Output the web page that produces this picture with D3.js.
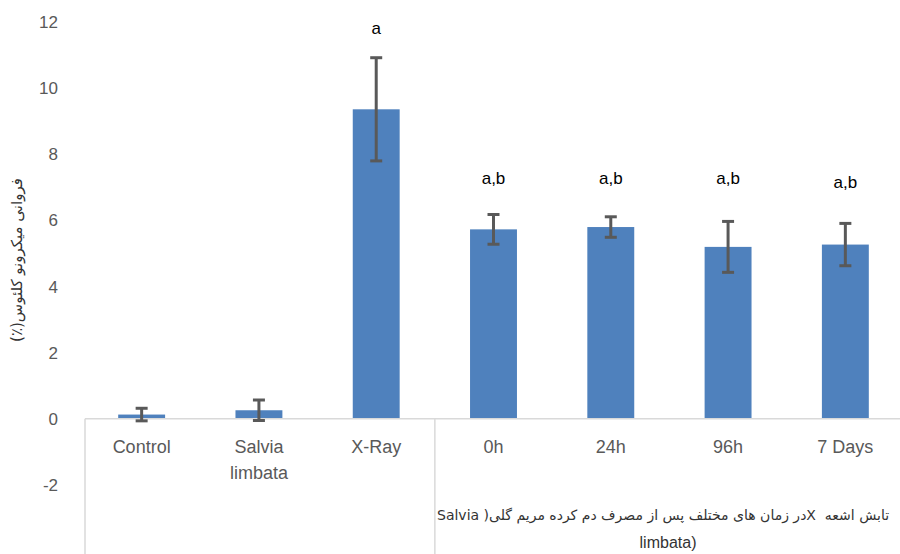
<!DOCTYPE html>
<html>
<head>
<meta charset="utf-8">
<script src="https://cdn.jsdelivr.net/npm/d3@7"></script>
<style>
  body { margin: 0; background: #fff; }
  svg { display: block; }
</style>
</head>
<body>
<div id="chart"></div>
<script>
// data
const categories = ["Control", "Salvia limbata", "X-Ray", "0h", "24h", "96h", "7 Days"];
const means = [0.13, 0.26, 9.36, 5.73, 5.8, 5.2, 5.27];
const errors = [0.19, 0.31, 1.56, 0.45, 0.31, 0.77, 0.64];
const letters = ["", "", "a", "a,b", "a,b", "a,b", "a,b"];
const letterLevel = [0, 0, 11.82, 7.28, 7.28, 7.28, 7.16];
const yTicks = [-2, 0, 2, 4, 6, 8, 10, 12];
const yTitle = "فروانی میکرونو کلئوس(٪)";
const groupLines = ["تابش اشعه  Xدر زمان های مختلف پس از مصرف دم کرده مریم گلی( Salvia", "limbata)"];

const width = 900, height = 554;
const svg = d3.select("#chart").append("svg")
  .attr("width", width)
  .attr("height", height);

const x = d3.scaleBand()
  .domain(categories)
  .range([83, 904])
  .paddingInner(0.6)
  .paddingOuter(0.3);

const y = d3.scaleLinear()
  .domain([-2, 12])
  .range([485, 22]);

const gray = "#595959";
const font = "'Liberation Sans', Arial, sans-serif";
const faFont = "'DejaVu Sans', Arial, sans-serif";

// y tick labels (no axis line, no gridlines)
const yAxis = svg.append("g")
  .attr("transform", "translate(58,0)")
  .call(d3.axisLeft(y).tickValues(yTicks).tickSize(0).tickPadding(0).tickFormat(d => String(d)));
yAxis.select(".domain").remove();
yAxis.selectAll("text")
  .attr("fill", gray)
  .attr("font-size", 17)
  .attr("font-family", font);

// y title
svg.append("text")
  .attr("transform", "translate(22,260) rotate(-90)")
  .attr("text-anchor", "middle")
  .attr("direction", "rtl")
  .attr("font-size", 15)
  .attr("font-family", faFont)
  .attr("fill", "#333")
  .text(yTitle);

// bars
svg.selectAll(".bar")
  .data(categories)
  .join("rect")
  .attr("class", "bar")
  .attr("x", d => x(d))
  .attr("width", x.bandwidth())
  .attr("y", (d, i) => y(Math.max(0, means[i])))
  .attr("height", (d, i) => Math.abs(y(means[i]) - y(0)))
  .attr("fill", "#4f81bd");

// zero axis line and group dividers
const x0 = x.range()[0] + 2, x1 = x.range()[1];
svg.append("line")
  .attr("x1", x0).attr("x2", x1)
  .attr("y1", y(0)).attr("y2", y(0))
  .attr("stroke", "#d9d9d9").attr("stroke-width", 1.5);

const dividerX = [x0, x(categories[3]) - x.step() * x.paddingInner() / 2];
svg.selectAll(".divider")
  .data(dividerX)
  .join("line")
  .attr("class", "divider")
  .attr("x1", d => d).attr("x2", d => d)
  .attr("y1", y(0)).attr("y2", height)
  .attr("stroke", "#d9d9d9").attr("stroke-width", 1.5);

// error bars
const errG = svg.append("g")
  .attr("stroke", "#595959")
  .attr("stroke-width", 3);
categories.forEach((c, i) => {
  const cx = x(c) + x.bandwidth() / 2;
  const top = y(means[i] + errors[i]);
  const bot = y(means[i] - errors[i]);
  errG.append("line").attr("x1", cx).attr("x2", cx).attr("y1", top).attr("y2", bot);
  errG.append("line").attr("x1", cx - 6).attr("x2", cx + 6).attr("y1", top).attr("y2", top);
  errG.append("line").attr("x1", cx - 6).attr("x2", cx + 6).attr("y1", bot).attr("y2", bot);
});

// significance letters
svg.selectAll(".letter")
  .data(categories)
  .join("text")
  .attr("class", "letter")
  .attr("x", d => x(d) + x.bandwidth() / 2)
  .attr("y", (d, i) => y(letterLevel[i]))
  .attr("dy", "0.35em")
  .attr("text-anchor", "middle")
  .attr("font-size", 17)
  .attr("font-family", font)
  .attr("fill", "#000")
  .text((d, i) => letters[i]);

// category labels
const catLabels = svg.selectAll(".cat")
  .data(categories)
  .join("text")
  .attr("class", "cat")
  .attr("x", d => x(d) + x.bandwidth() / 2)
  .attr("y", 453)
  .attr("text-anchor", "middle")
  .attr("font-size", 18)
  .attr("font-family", font)
  .attr("fill", gray);
catLabels.each(function(d) {
  const t = d3.select(this);
  const parts = d === "Salvia limbata" ? ["Salvia", "limbata"] : [d];
  parts.forEach((p, k) => {
    t.append("tspan")
      .attr("x", x(d) + x.bandwidth() / 2)
      .attr("dy", k === 0 ? 0 : 26)
      .text(p);
  });
});

// group label under the treated bars (right-to-left)
const g1 = svg.append("text")
  .attr("y", 520)
  .attr("direction", "rtl")
  .attr("xml:space", "preserve")
  .attr("font-size", 14)
  .attr("font-family", faFont)
  .attr("fill", "#333")
  .text(groupLines[0]);
const w1 = g1.node().getComputedTextLength();
// with direction rtl the anchor sits at the right end
g1.attr("x", 437 + w1);
svg.append("text")
  .attr("x", 668)
  .attr("y", 548)
  .attr("text-anchor", "middle")
  .attr("font-size", 16)
  .attr("font-family", font)
  .attr("fill", "#333")
  .text(groupLines[1]);
</script>
</body>
</html>
